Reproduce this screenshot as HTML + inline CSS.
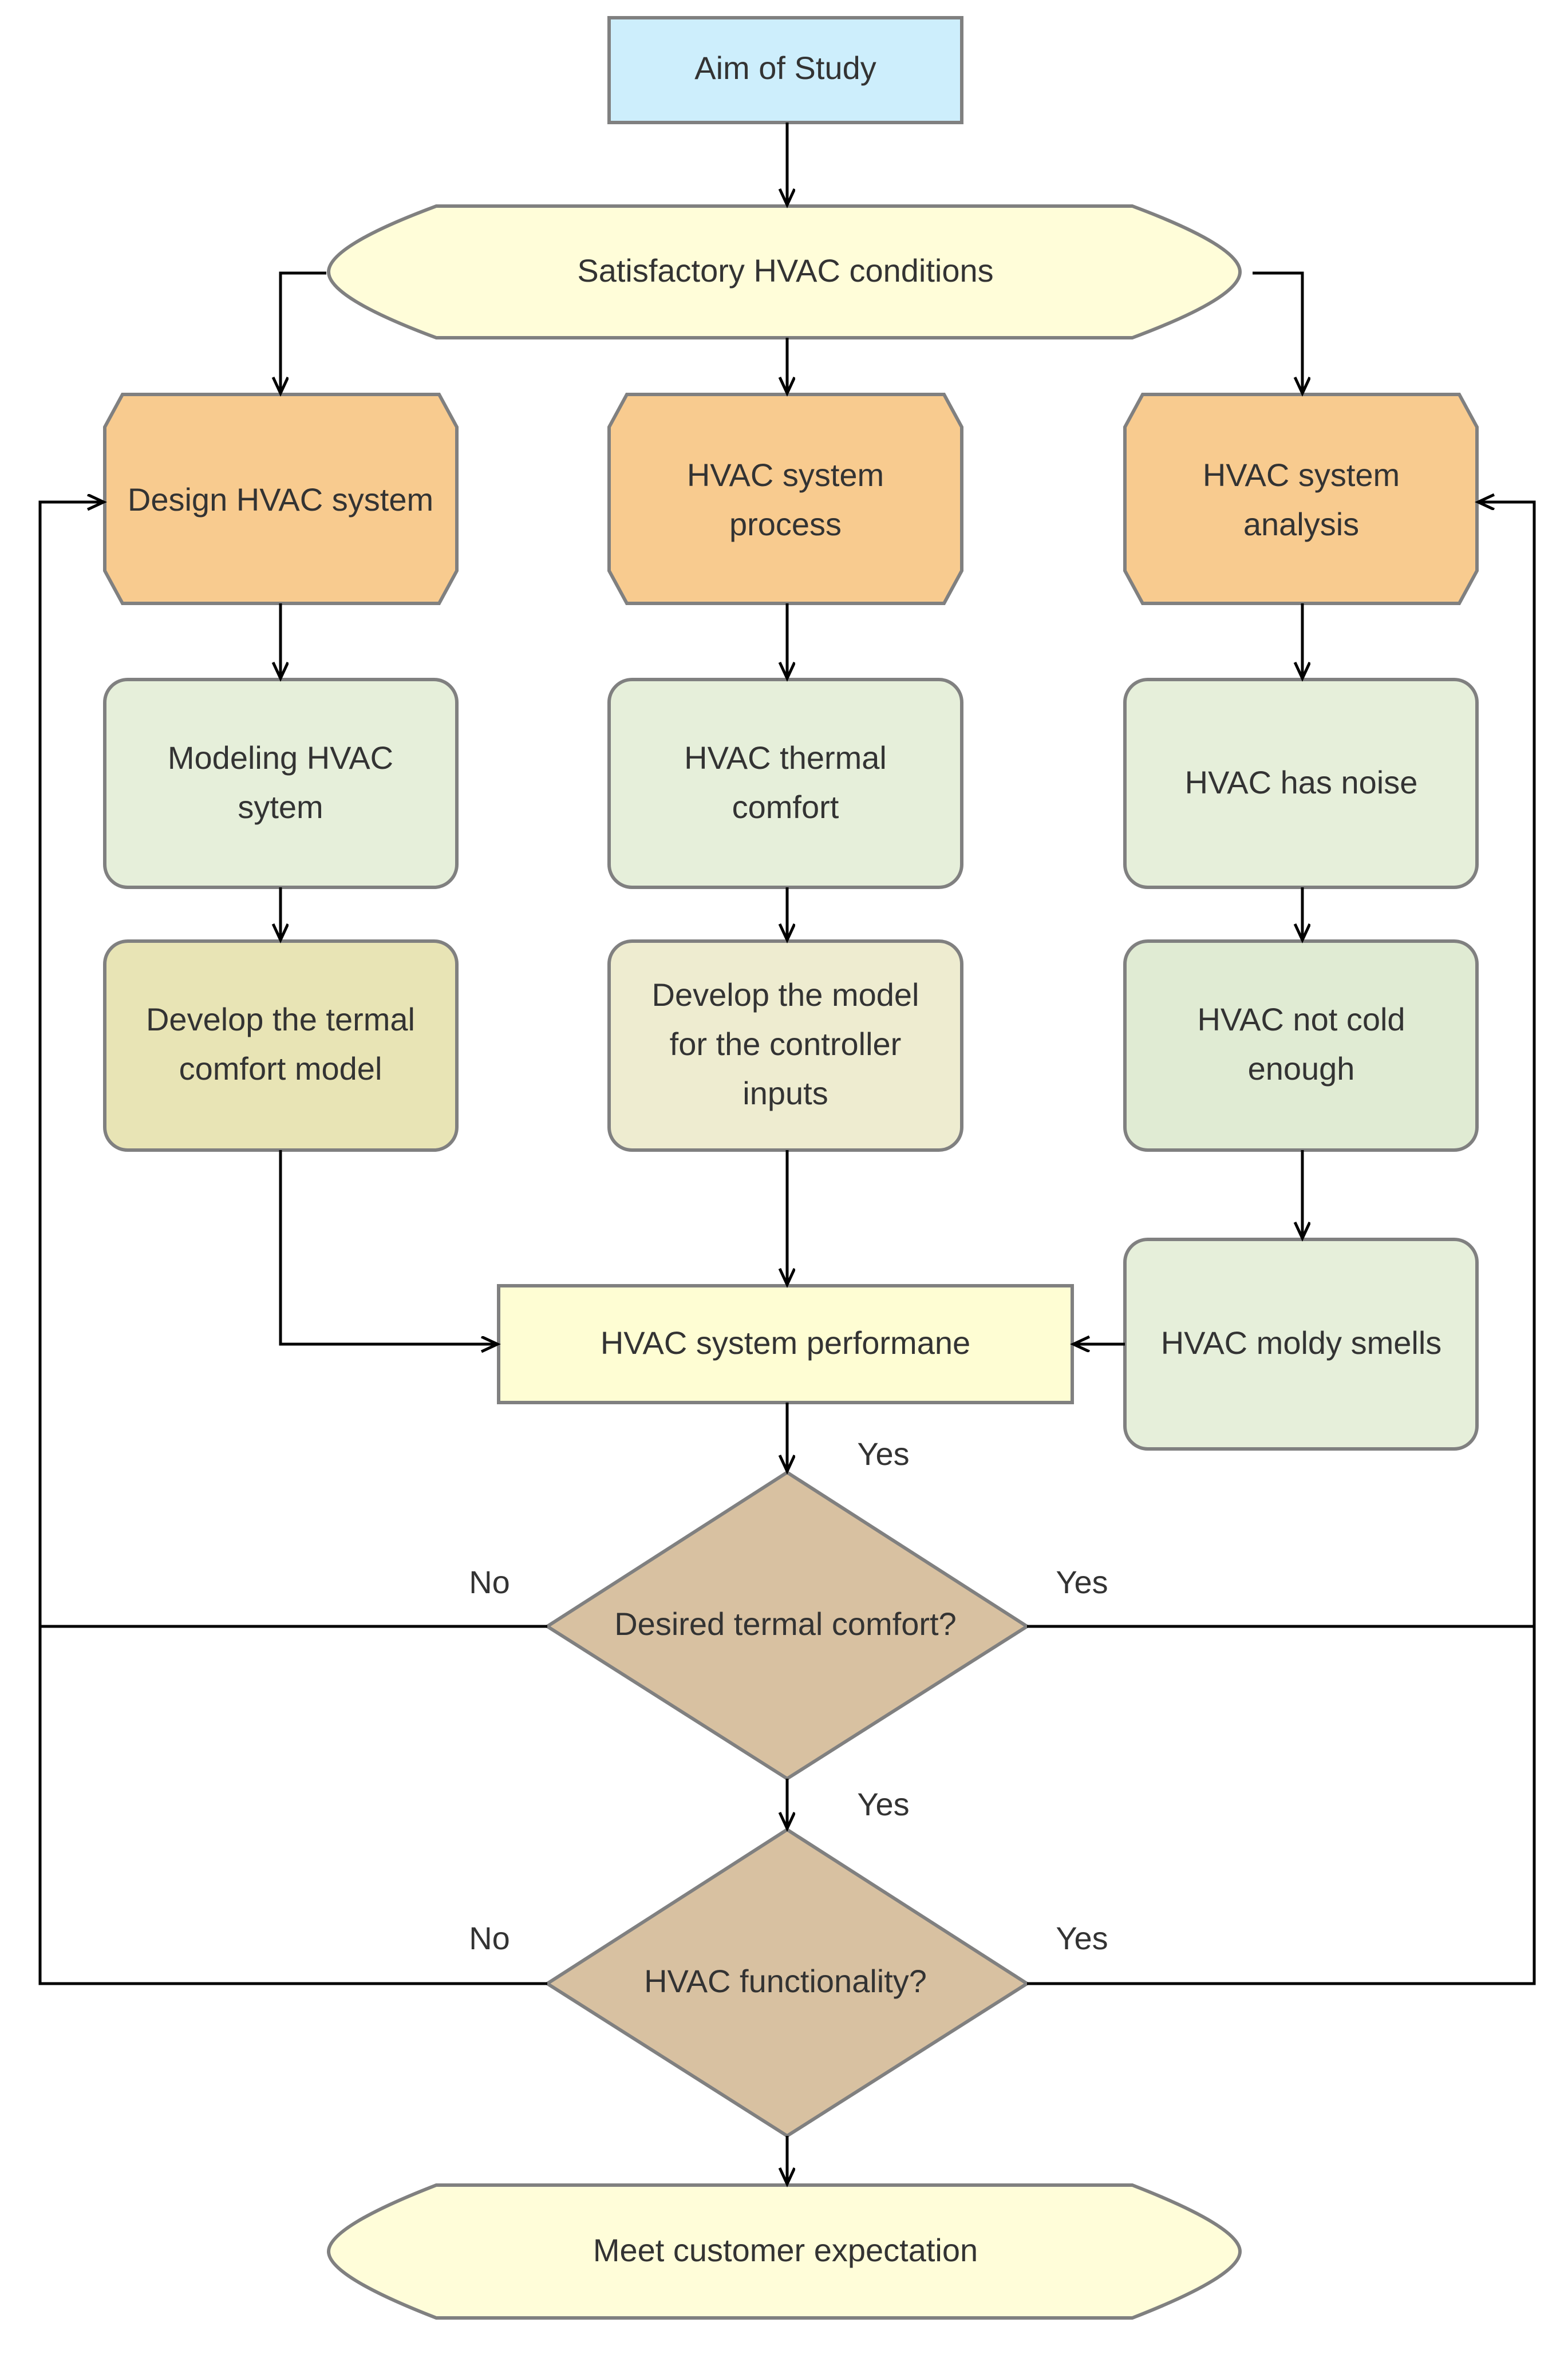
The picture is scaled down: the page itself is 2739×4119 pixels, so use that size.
<!DOCTYPE html>
<html><head><meta charset="utf-8"><style>
html,body{margin:0;padding:0;background:#fff;}
svg{display:block;}
text{font-family:"Liberation Sans","DejaVu Sans",sans-serif;font-size:56px;fill:#333;text-anchor:middle;dominant-baseline:middle;}
</style></head><body>
<svg width="2739" height="4119" viewBox="0 0 2739 4119" xmlns="http://www.w3.org/2000/svg">
<defs>
<marker id="a" markerUnits="userSpaceOnUse" markerWidth="40" markerHeight="40" refX="30" refY="14" orient="auto">
<path d="M2,1 L30,14 L2,27" fill="none" stroke="#000" stroke-width="5"/>
</marker>
</defs>
<g stroke="#808080" stroke-width="6">
<rect x="1064" y="31" width="616" height="183" fill="#cdeefc"/>
<path d="M762,360 L1978,360 Q2166,430 2166,475 Q2166,520 1978,590 L762,590 Q574,520 574,475 Q574,430 762,360 Z" fill="#fffdd9"/>
<path d="M214,689 L767,689 L798,746 L798,997 L767,1054 L214,1054 L183,997 L183,746 Z" fill="#f8cb8f"/>
<path d="M1095,689 L1649,689 L1680,746 L1680,997 L1649,1054 L1095,1054 L1064,997 L1064,746 Z" fill="#f8cb8f"/>
<path d="M1996,689 L2549,689 L2580,746 L2580,997 L2549,1054 L1996,1054 L1965,997 L1965,746 Z" fill="#f8cb8f"/>
<rect x="183" y="1187" width="615" height="363" rx="40" fill="#e6efda"/>
<rect x="1064" y="1187" width="616" height="363" rx="40" fill="#e6efda"/>
<rect x="1965" y="1187" width="615" height="363" rx="40" fill="#e6efda"/>
<rect x="183" y="1644" width="615" height="365" rx="40" fill="#e8e4b5"/>
<rect x="1064" y="1644" width="616" height="365" rx="40" fill="#eeecd0"/>
<rect x="1965" y="1644" width="615" height="365" rx="40" fill="#e0ebd3"/>
<rect x="1965" y="2165" width="615" height="366" rx="40" fill="#e6efda"/>
<rect x="871" y="2246" width="1002" height="204" fill="#fefdd3"/>
<path d="M1375,2572 L1794,2841 L1375,3107 L956,2841 Z" fill="#d8c1a1"/>
<path d="M1375,3196 L1794,3465 L1375,3731 L956,3465 Z" fill="#d8c1a1"/>
<path d="M762,3817 L1978,3817 Q2166,3890 2166,3933 Q2166,3976 1978,4049 L762,4049 Q574,3976 574,3933 Q574,3890 762,3817 Z" fill="#fffdd9"/>
</g>
<g stroke="#000" stroke-width="5" fill="none">
<path d="M1375,214 L1375,358" marker-end="url(#a)"/>
<path d="M570,477 L490,477 L490,687" marker-end="url(#a)"/>
<path d="M1375,590 L1375,687" marker-end="url(#a)"/>
<path d="M2188,477 L2275,477 L2275,687" marker-end="url(#a)"/>
<path d="M490,1054 L490,1185" marker-end="url(#a)"/>
<path d="M1375,1054 L1375,1185" marker-end="url(#a)"/>
<path d="M2275,1054 L2275,1185" marker-end="url(#a)"/>
<path d="M490,1550 L490,1642" marker-end="url(#a)"/>
<path d="M1375,1550 L1375,1642" marker-end="url(#a)"/>
<path d="M2275,1550 L2275,1642" marker-end="url(#a)"/>
<path d="M2275,2009 L2275,2163" marker-end="url(#a)"/>
<path d="M490,2009 L490,2348 L869,2348" marker-end="url(#a)"/>
<path d="M1375,2009 L1375,2244" marker-end="url(#a)"/>
<path d="M1965,2348 L1875,2348" marker-end="url(#a)"/>
<path d="M1375,2450 L1375,2570" marker-end="url(#a)"/>
<path d="M1375,3107 L1375,3194" marker-end="url(#a)"/>
<path d="M1375,3731 L1375,3815" marker-end="url(#a)"/>
<path d="M956,2841 L70,2841"/>
<path d="M956,3465 L70,3465 L70,877 L181,877" marker-end="url(#a)"/>
<path d="M1794,2841 L2680,2841"/>
<path d="M1794,3465 L2680,3465 L2680,877 L2582,877" marker-end="url(#a)"/>
</g>
<text x="1372" y="123">Aim of Study</text>
<text x="1372" y="477">Satisfactory HVAC conditions</text>
<text x="490" y="877">Design HVAC system</text>
<text x="1372" y="834">HVAC system</text>
<text x="1372" y="920">process</text>
<text x="2273" y="834">HVAC system</text>
<text x="2273" y="920">analysis</text>
<text x="490" y="1328">Modeling HVAC</text>
<text x="490" y="1414">sytem</text>
<text x="1372" y="1328">HVAC thermal</text>
<text x="1372" y="1414">comfort</text>
<text x="2273" y="1371">HVAC has noise</text>
<text x="490" y="1785">Develop the termal</text>
<text x="490" y="1871">comfort model</text>
<text x="1372" y="1742">Develop the  model</text>
<text x="1372" y="1828">for the controller</text>
<text x="1372" y="1914">inputs</text>
<text x="2273" y="1785">HVAC not cold</text>
<text x="2273" y="1871">enough</text>
<text x="2273" y="2350">HVAC moldy smells</text>
<text x="1372" y="2350">HVAC system performane</text>
<text x="1372" y="2841">Desired termal comfort?</text>
<text x="1372" y="3465">HVAC functionality?</text>
<text x="1372" y="3935">Meet customer expectation</text>
<text x="1543" y="2544">Yes</text>
<text x="855" y="2768">No</text>
<text x="1890" y="2768">Yes</text>
<text x="1543" y="3156">Yes</text>
<text x="855" y="3390">No</text>
<text x="1890" y="3390">Yes</text>
</svg>
</body></html>
